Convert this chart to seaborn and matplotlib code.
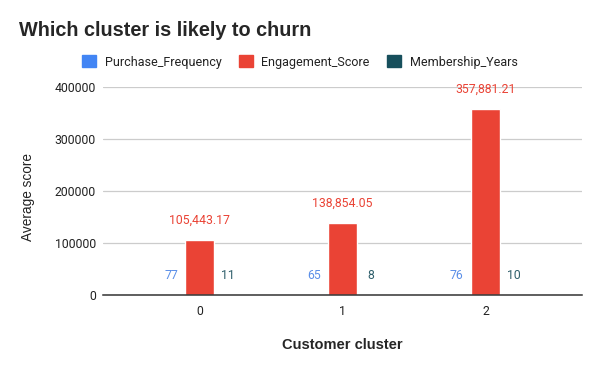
import matplotlib
matplotlib.use('Agg')
import matplotlib.pyplot as plt
import seaborn as sns
import pandas as pd
import numpy as np

sns.set_style('white')
plt.rcParams['font.family'] = ['Roboto', 'DejaVu Sans']

# Data
clusters = ['0', '1', '2']
series = ['Purchase_Frequency', 'Engagement_Score', 'Membership_Years']
purchase_frequency = [77, 65, 76]
engagement_score = [105443.17, 138854.05, 357881.21]
membership_years = [11, 8, 10]
colors = ['#4285f4', '#ea4335', '#174f5c']
label_colors = ['#5b8fe8', '#ea4335', '#2f5f6b']

df = pd.DataFrame({
    'cluster': clusters * 3,
    'metric': np.repeat(series, 3),
    'value': purchase_frequency + engagement_score + membership_years,
})

fig = plt.figure(figsize=(6, 3.71), dpi=100)
ax = fig.add_axes([103 / 600, 1 - 295 / 371, 479 / 600, 208 / 371])

sns.barplot(data=df, x='cluster', y='value', hue='metric', hue_order=series,
            palette=colors, width=0.6, ax=ax, legend=False, saturation=1)

# value labels above each bar
for cont, lc in zip(ax.containers, label_colors):
    for bar in cont:
        h = bar.get_height()
        txt = f'{h:,.2f}' if h > 1000 else f'{h:.0f}'
        ax.annotate(txt, (bar.get_x() + bar.get_width() / 2, h),
                    xytext=(0, 14), textcoords='offset points',
                    ha='center', va='center', fontsize=8.8, color=lc)

ax.set_xlim(-0.675, 2.675)
ax.set_ylim(0, 400000)
ax.set_yticks([0, 100000, 200000, 300000, 400000])
ax.set_yticklabels(['0', '100000', '200000', '300000', '400000'])
ax.yaxis.grid(True, color='#cccccc', linewidth=0.9)
ax.set_axisbelow(True)
for s in ['top', 'right', 'left']:
    ax.spines[s].set_visible(False)
ax.spines['bottom'].set_color('#333333')
ax.spines['bottom'].set_linewidth(1.1)
ax.tick_params(axis='both', length=0, labelsize=8.8, colors='#222222')
ax.tick_params(axis='x', pad=7)
ax.tick_params(axis='y', pad=5)
ax.set_xlabel('')
ax.set_ylabel('')

arial = ['Liberation Sans', 'DejaVu Sans']
fig.text(19 / 600, 1 - 30 / 371, 'Which cluster is likely to churn', family=arial,
         fontsize=14.3, fontweight='bold', va='center', ha='left')
fig.text(28 / 600, 1 - 197 / 371, 'Average score', rotation=90, family=arial,
         fontsize=9.8, va='center', ha='center', color='#222222')
fig.text(342.5 / 600, 1 - 345 / 371, 'Customer cluster', family=arial, fontsize=10.5,
         fontweight='bold', va='center', ha='center')

handles = [plt.Rectangle((0, 0), 1, 1, color=c) for c in colors]
fig.legend(handles, series, loc='center', bbox_to_anchor=(300 / 600, 1 - 62 / 371),
           ncol=3, frameon=False, fontsize=9, handlelength=1.1, handleheight=1.1,
           columnspacing=1.4, handletextpad=0.7, labelcolor='#222222')

fig.savefig('out.png', dpi=100)
